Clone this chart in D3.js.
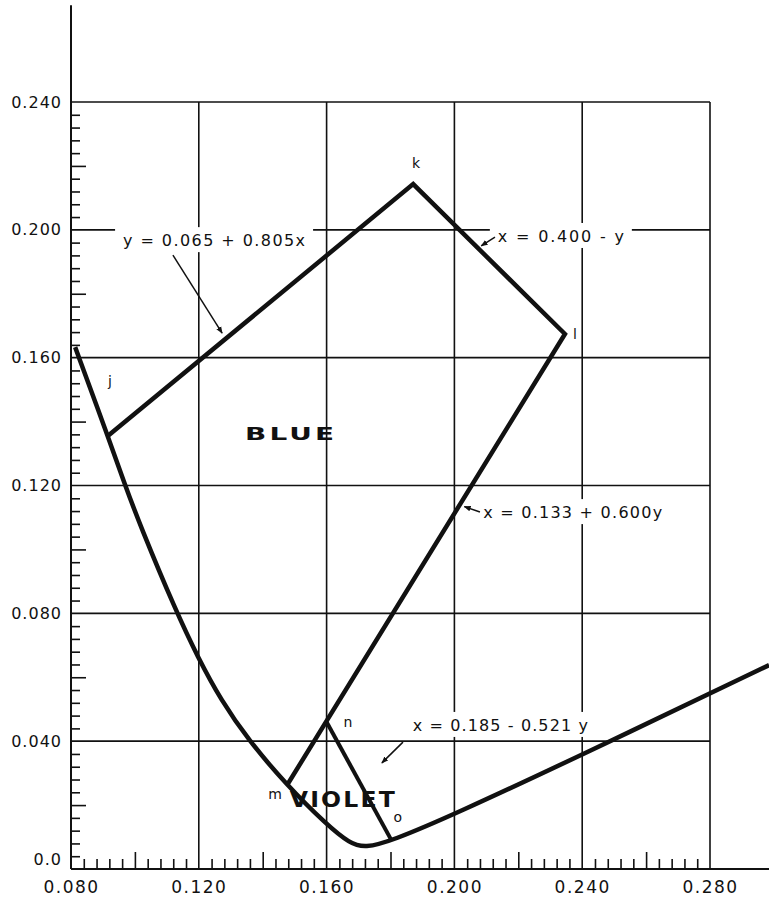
<!DOCTYPE html>
<html>
<head>
<meta charset="utf-8">
<script src="https://cdn.jsdelivr.net/npm/d3@7"></script>
<style>
  body { margin: 0; background: #fff; }
  text { font-family: "DejaVu Sans", sans-serif; fill: #111; }
</style>
</head>
<body>
<div id="chart"></div>
<script>

// tick values on the two axes
var xTicks = [0.080, 0.120, 0.160, 0.200, 0.240, 0.280];
var yTicks = [0.0, 0.040, 0.080, 0.120, 0.160, 0.200, 0.240];
var xTickLabels = ["0.080", "0.120", "0.160", "0.200", "0.240", "0.280"];
var yTickLabels = ["0.0", "0.040", "0.080", "0.120", "0.160", "0.200", "0.240"];

// spectrum locus
var locusX = [0.0813, 0.0915, 0.0969, 0.1016, 0.1131, 0.1197, 0.1269, 0.1357, 0.1476,
              0.1601, 0.1673, 0.1720, 0.1804, 0.1996, 0.2399, 0.2985];
var locusY = [0.1633, 0.1355, 0.1202, 0.1076, 0.0801, 0.0663, 0.0529, 0.0401, 0.0262,
              0.0138, 0.0080, 0.0066, 0.0088, 0.0169, 0.0357, 0.0638];

// boundary corners j, k, l, m  and the n - o line
var boundaryNames = ["j", "k", "l", "m"];
var boundaryX = [0.0915, 0.1871, 0.2346, 0.1476];
var boundaryY = [0.1355, 0.2143, 0.1674, 0.0262];
var splitNames = ["n", "o"];
var splitX = [0.1600, 0.1804];
var splitY = [0.0460, 0.0088];

// equation labels and where their arrows point
var equations = [
  { text: "y = 0.065 + 0.805x", x: 0.0963, y: 0.1949, w: 182, ax: [0.1119, 0.1273], ay: [0.1921, 0.1677] },
  { text: "x = 0.400 - y",      x: 0.2136, y: 0.1962, w: 126, ax: [0.2127, 0.2084], ay: [0.1977, 0.1950] },
  { text: "x = 0.133 + 0.600y", x: 0.2090, y: 0.1098, w: 179, ax: [0.2080, 0.2031], ay: [0.1117, 0.1134] },
  { text: "x = 0.185 - 0.521 y", x: 0.1870, y: 0.0432, w: 175, ax: [0.1839, 0.1773], ay: [0.0397, 0.0332] }
];

var regionNames = ["BLUE", "VIOLET"];
var regionX = [0.1345, 0.1485];
var regionY = [0.1342, 0.0194];

// letters beside the corners
var cornerLabelX = [0.0922, 0.1880, 0.2377, 0.1439, 0.1667, 0.1823];
var cornerLabelY = [0.1511, 0.2193, 0.1658, 0.0219, 0.0444, 0.0147];
var cornerLabelText = ["j", "k", "l", "m", "n", "o"];

var svgWidth = 769;
var svgHeight = 900;

var svg = d3.select("#chart")
  .append("svg")
  .attr("width", svgWidth)
  .attr("height", svgHeight);

var x = d3.scaleLinear().domain([0.08, 0.28]).range([71, 710]);
var y = d3.scaleLinear().domain([0, 0.24]).range([869, 102]);

var ink = "#111";

// grid
var grid = svg.append("g");
grid.selectAll(".hgrid")
  .data(yTicks.slice(1))
  .enter()
  .append("line")
  .attr("x1", x(0.08))
  .attr("x2", x(0.28))
  .attr("y1", d => y(d))
  .attr("y2", d => y(d))
  .attr("stroke", ink)
  .attr("stroke-width", 1.6);

grid.selectAll(".vgrid")
  .data(xTicks.slice(1))
  .enter()
  .append("line")
  .attr("x1", d => x(d))
  .attr("x2", d => x(d))
  .attr("y1", y(0))
  .attr("y2", y(0.24))
  .attr("stroke", ink)
  .attr("stroke-width", 1.6);

// minor ticks, every 0.004, pointing into the plot
var minor = d3.range(0, 0.2401, 0.004).filter(d => Math.round(d * 1000) % 40 !== 0);
var minorShortY = minor.filter(d => Math.round(d * 1000) % 20 !== 0);
var minorLongY = minor.filter(d => Math.round(d * 1000) % 20 === 0);

svg.append("g")
  .attr("transform", `translate(${x(0.08)},0)`)
  .call(d3.axisRight(y).tickValues(minorShortY).tickSize(9).tickFormat(""))
  .call(g => g.select(".domain").remove());
svg.append("g")
  .attr("transform", `translate(${x(0.08)},0)`)
  .call(d3.axisRight(y).tickValues(minorLongY).tickSize(15).tickFormat(""))
  .call(g => g.select(".domain").remove());

var minorX = d3.range(0.08, 0.2801, 0.004).filter(d => Math.round(d * 1000) % 40 !== 0);
svg.append("g")
  .attr("transform", `translate(0,${y(0)})`)
  .call(d3.axisTop(x).tickValues(minorX.filter(d => Math.round(d * 1000) % 20 !== 0)).tickSize(10).tickFormat(""))
  .call(g => g.select(".domain").remove());
svg.append("g")
  .attr("transform", `translate(0,${y(0)})`)
  .call(d3.axisTop(x).tickValues(minorX.filter(d => Math.round(d * 1000) % 20 === 0)).tickSize(17).tickFormat(""))
  .call(g => g.select(".domain").remove());

svg.selectAll(".tick line").attr("stroke", ink).attr("stroke-width", 1.6);

// axis lines, the y axis runs up past the grid and the x axis to the edge
svg.append("line")
  .attr("x1", x(0.08)).attr("x2", x(0.08))
  .attr("y1", y(0)).attr("y2", y(0.2703))
  .attr("stroke", ink).attr("stroke-width", 2);
svg.append("line")
  .attr("x1", x(0.08)).attr("x2", svgWidth)
  .attr("y1", y(0)).attr("y2", y(0))
  .attr("stroke", ink).attr("stroke-width", 2);

// tick labels
svg.append("g")
  .attr("transform", `translate(${x(0.08) - 6},0)`)
  .call(d3.axisLeft(y).tickValues(yTicks).tickSize(0).tickFormat((d, i) => yTickLabels[i]))
  .call(g => g.select(".domain").remove())
  .selectAll("text")
  .attr("font-family", "DejaVu Sans")
  .attr("font-size", 16)
  .attr("letter-spacing", 1)
  .attr("fill", ink)
  // the 0.0 label sits a little above its line
  .attr("y", d => d === 0 ? -10 : 0);

svg.append("g")
  .attr("transform", `translate(0,${y(0) + 9})`)
  .call(d3.axisBottom(x).tickValues(xTicks).tickSize(0).tickFormat((d, i) => xTickLabels[i]))
  .call(g => g.select(".domain").remove())
  .selectAll("text")
  .attr("font-family", "DejaVu Sans")
  .attr("font-size", 17)
  .attr("letter-spacing", 1.5)
  .attr("fill", ink);

// equation labels with white patches over the grid
var eqGroup = svg.append("g");
equations.forEach(function(e) {
  var g = eqGroup.append("g");
  var rect = g.append("rect").attr("fill", "#fff");
  var t = g.append("text")
    .attr("x", x(e.x))
    .attr("y", y(e.y))
    .attr("font-size", 16)
    .attr("textLength", e.w)
    .attr("lengthAdjust", "spacing")
    .text(e.text);
  var bb = t.node().getBBox();
  rect.attr("x", bb.x - 8).attr("y", bb.y - 4)
    .attr("width", bb.width + 16).attr("height", bb.height + 6);
});

// arrow head
svg.append("defs").append("marker")
  .attr("id", "arrow")
  .attr("viewBox", "0 0 10 10")
  .attr("refX", 9).attr("refY", 5)
  .attr("markerWidth", 7).attr("markerHeight", 7)
  .attr("markerUnits", "userSpaceOnUse")
  .attr("orient", "auto")
  .append("path")
  .attr("d", "M0,1 L10,5 L0,9 Z")
  .attr("fill", ink);

eqGroup.selectAll(".arrow")
  .data(equations)
  .enter()
  .append("line")
  .attr("x1", d => x(d.ax[0])).attr("y1", d => y(d.ay[0]))
  .attr("x2", d => x(d.ax[1])).attr("y2", d => y(d.ay[1]))
  .attr("stroke", ink)
  .attr("stroke-width", 1.5)
  .attr("marker-end", "url(#arrow)");

// spectrum locus, smoothed like a hand drawn curve
var locus = locusX.map((d, i) => [d, locusY[i]]);
var line = d3.line()
  .x(d => x(d[0]))
  .y(d => y(d[1]))
  .curve(d3.curveBasis);

svg.append("path")
  .datum(locus)
  .attr("d", line)
  .attr("fill", "none")
  .attr("stroke", ink)
  .attr("stroke-width", 4.5);

// region boundaries
var straight = d3.line().x(d => x(d[0])).y(d => y(d[1]));
svg.append("path")
  .datum(boundaryX.map((d, i) => [d, boundaryY[i]]))
  .attr("d", straight)
  .attr("fill", "none")
  .attr("stroke", ink)
  .attr("stroke-width", 4.5)
  .attr("stroke-linejoin", "miter");

svg.append("path")
  .datum(splitX.map((d, i) => [d, splitY[i]]))
  .attr("d", straight)
  .attr("fill", "none")
  .attr("stroke", ink)
  .attr("stroke-width", 4);

// corner letters
svg.selectAll(".corner")
  .data(cornerLabelText)
  .enter()
  .append("text")
  .attr("x", (d, i) => x(cornerLabelX[i]))
  .attr("y", (d, i) => y(cornerLabelY[i]))
  .attr("text-anchor", "middle")
  .attr("font-size", 14)
  .attr("fill", ink)
  .text(d => d);

// region names, heavy and stretched wide
svg.selectAll(".region")
  .data(regionNames)
  .enter()
  .append("text")
  .attr("x", (d, i) => x(regionX[i]))
  .attr("y", (d, i) => y(regionY[i]))
  .attr("font-size", (d, i) => i === 0 ? 18 : 22)
  .attr("font-weight", 900)
  .attr("textLength", (d, i) => i === 0 ? 92 : 107)
  .attr("lengthAdjust", "spacingAndGlyphs")
  .attr("letter-spacing", 2)
  .attr("fill", ink)
  .text(d => d);

</script>
</body>
</html>
